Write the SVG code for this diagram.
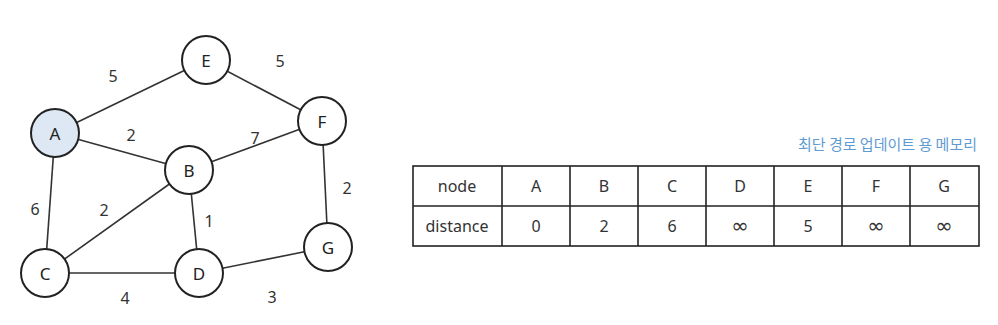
<svg xmlns="http://www.w3.org/2000/svg" width="998" height="325" viewBox="0 0 998 325">
<style>
.edge{stroke:#333;stroke-width:1.6;fill:none}
.node circle{fill:#fff;stroke:#222;stroke-width:2}
.node text{font-family:"Noto Sans","DejaVu Sans",sans-serif;font-size:17px;fill:#222;text-anchor:middle;dominant-baseline:central}
.w{font-family:"Noto Sans","DejaVu Sans",sans-serif;font-size:16px;fill:#333;text-anchor:middle;dominant-baseline:central}
.cell{fill:#fff;stroke:#222;stroke-width:1.6}
.t{font-family:"Noto Sans","DejaVu Sans",sans-serif;font-size:16px;fill:#333;text-anchor:middle;dominant-baseline:central}
.inf{font-family:"DejaVu Sans",sans-serif;font-size:21px}
.title{font-family:"Noto Sans CJK KR","Noto Sans",sans-serif;font-size:15px;fill:#5f9bd3;text-anchor:end}
</style>
<rect width="998" height="325" fill="#fff"/>
<g id="connectors">
<line class="edge" x1="55" y1="133" x2="206" y2="60"/>
<line class="edge" x1="206" y1="60" x2="322" y2="121"/>
<line class="edge" x1="55" y1="133" x2="189" y2="170"/>
<line class="edge" x1="189" y1="170" x2="322" y2="121"/>
<line class="edge" x1="322" y1="121" x2="328" y2="247"/>
<line class="edge" x1="55" y1="133" x2="45" y2="273"/>
<line class="edge" x1="45" y1="273" x2="189" y2="170"/>
<line class="edge" x1="189" y1="170" x2="199" y2="273"/>
<line class="edge" x1="45" y1="273" x2="199" y2="273"/>
<line class="edge" x1="199" y1="273" x2="328" y2="247"/>
<text class="w" x="113" y="76">5</text>
<text class="w" x="280" y="61">5</text>
<text class="w" x="131" y="135">2</text>
<text class="w" x="255" y="138">7</text>
<text class="w" x="347" y="188">2</text>
<text class="w" x="35" y="209">6</text>
<text class="w" x="104" y="210">2</text>
<text class="w" x="209" y="221">1</text>
<text class="w" x="125" y="298">4</text>
<text class="w" x="272" y="297">3</text>
</g>
<g id="node-A" class="node"><circle cx="55" cy="133" r="24" style="fill:#dde8f4"/><text x="55" y="133">A</text></g>
<g id="node-E" class="node"><circle cx="206" cy="60" r="24"/><text x="206" y="60">E</text></g>
<g id="node-F" class="node"><circle cx="322" cy="121" r="24"/><text x="322" y="121">F</text></g>
<g id="node-B" class="node"><circle cx="189" cy="170" r="24"/><text x="189" y="170">B</text></g>
<g id="node-G" class="node"><circle cx="328" cy="247" r="24"/><text x="328" y="247">G</text></g>
<g id="node-C" class="node"><circle cx="45" cy="273" r="24"/><text x="45" y="273">C</text></g>
<g id="node-D" class="node"><circle cx="199" cy="273" r="24"/><text x="199" y="273">D</text></g>
<g id="memory-table">
<text class="title" x="977" y="150">최단 경로 업데이트 용 메모리</text>
<rect class="cell" x="413" y="166" width="566" height="80"/>
<line class="cell" x1="413" y1="206" x2="979" y2="206"/>
<line class="cell" x1="502" y1="166" x2="502" y2="246"/>
<line class="cell" x1="570" y1="166" x2="570" y2="246"/>
<line class="cell" x1="638" y1="166" x2="638" y2="246"/>
<line class="cell" x1="706" y1="166" x2="706" y2="246"/>
<line class="cell" x1="774" y1="166" x2="774" y2="246"/>
<line class="cell" x1="842" y1="166" x2="842" y2="246"/>
<line class="cell" x1="910" y1="166" x2="910" y2="246"/>
<text class="t" x="457" y="186">node</text>
<text class="t" x="536" y="186">A</text>
<text class="t" x="604" y="186">B</text>
<text class="t" x="672" y="186">C</text>
<text class="t" x="740" y="186">D</text>
<text class="t" x="808" y="186">E</text>
<text class="t" x="876" y="186">F</text>
<text class="t" x="944" y="186">G</text>
<text class="t" x="457" y="226">distance</text>
<text class="t" x="536" y="226">0</text>
<text class="t" x="604" y="226">2</text>
<text class="t" x="672" y="226">6</text>
<text class="t inf" x="740" y="226">∞</text>
<text class="t" x="808" y="226">5</text>
<text class="t inf" x="876" y="226">∞</text>
<text class="t inf" x="944" y="226">∞</text>
</g>
</svg>
